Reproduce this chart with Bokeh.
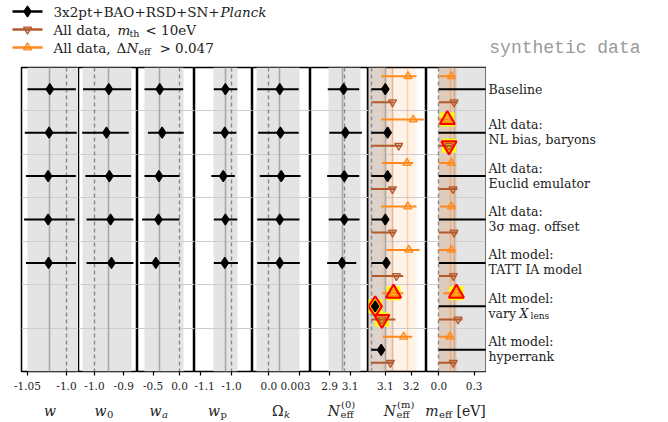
from bokeh.plotting import figure
from bokeh.layouts import row, column
from bokeh.models import Range1d, FixedTicker
from bokeh.core.properties import value
from bokeh.embed import file_html
from bokeh.resources import INLINE

# ---------------- data ----------------
row_line1 = ["Baseline", "Alt data:", "Alt data:", "Alt data:", "Alt model:", "Alt model:", "Alt model:"]
row_line2 = ["", "NL bias, baryons", "Euclid emulator", "3σ mag. offset", "TATT IA model", "vary", "hyperrank"]

w_c = [-1.0214, -1.0223, -1.0236, -1.0236, -1.0230]
w_lo = [-1.0500, -1.0535, -1.0520, -1.0544, -1.0520]
w_hi = [-0.9880, -0.9868, -0.9880, -0.9894, -0.9880]

w0_c = [-0.951, -0.959, -0.949, -0.945, -0.942]
w0_lo = [-1.039, -1.042, -1.031, -1.027, -1.027]
w0_hi = [-0.875, -0.883, -0.875, -0.867, -0.867]

wa_c = [-0.375, -0.330, -0.390, -0.400, -0.450]
wa_lo = [-0.665, -0.600, -0.665, -0.710, -0.750]
wa_hi = [0.070, 0.080, 0.000, 0.000, 0.000]

wp_c = [-1.020, -1.022, -1.027, -1.020, -1.022]
wp_lo = [-1.058, -1.060, -1.066, -1.058, -1.058]
wp_hi = [-0.981, -0.984, -0.989, -0.981, -0.979]

ok_c = [0.00106, 0.00113, 0.00120, 0.00106, 0.00106]
ok_lo = [-0.00112, -0.00103, -0.00087, -0.00112, -0.00112]
ok_hi = [0.00290, 0.00290, 0.00307, 0.00297, 0.00300]

n0_c = [3.036, 3.053, 3.043, 3.043, 3.021]
n0_lo = [2.881, 2.897, 2.875, 2.890, 2.875]
n0_hi = [3.189, 3.215, 3.189, 3.192, 3.160]

nm_black_c = [3.100, 3.109, 3.109, 3.100, 3.104, 3.061, 3.084]
nm_black_lo = [3.046, 3.046, 3.046, 3.046, 3.046, 3.046, 3.046]
nm_black_hi = [3.103, 3.112, 3.112, 3.103, 3.107, 3.064, 3.087]
nm_brown_c = [3.128, 3.152, 3.128, 3.128, 3.143, 3.087, 3.120]
nm_brown_lo = [3.046, 3.046, 3.046, 3.046, 3.046, 3.046, 3.046]
nm_brown_hi = [3.132, 3.165, 3.139, 3.139, 3.169, 3.139, 3.132]
nm_orange_c = [3.188, 3.208, 3.184, 3.187, 3.191, 3.132, 3.171]
nm_orange_lo = [3.084, 3.084, 3.087, 3.084, 3.104, 3.087, 3.091]
nm_orange_hi = [3.221, 3.249, 3.208, 3.221, 3.232, 3.170, 3.204]

me_black_lo = [0.0, 0.0, 0.0, 0.0, 0.0, 0.0, 0.0]
me_black_hi = [0.6, 0.6, 0.6, 0.6, 0.6, 0.6, 0.6]
me_brown_c = [0.129, 0.086, 0.120, 0.129, 0.123, 0.163, 0.123]
me_brown_lo = [0.0, 0.0, 0.0, 0.0, 0.0, 0.0, 0.0]
me_brown_hi = [0.160, 0.135, 0.158, 0.160, 0.143, 0.200, 0.143]
me_orange_c = [0.106, 0.072, 0.106, 0.106, 0.106, 0.149, 0.094]
me_orange_lo = [0.009, 0.0, 0.0, 0.009, 0.0, 0.038, 0.0]
me_orange_hi = [0.143, 0.120, 0.129, 0.143, 0.141, 0.200, 0.123]

# panel settings: x range, ticks, tick labels, 1-sigma band, mean line, fiducial line
w_ticks, w_tick_labels = [-1.05, -1.0], ["-1.05", "-1.0"]
w0_ticks, w0_tick_labels = [-1.0, -0.9], ["-1.0", "-0.9"]
wa_ticks, wa_tick_labels = [-0.5, 0.0], ["-0.5", "0.0"]
wp_ticks, wp_tick_labels = [-1.1, -1.0], ["-1.1", "-1.0"]
ok_ticks, ok_tick_labels = [0.0, 0.003], ["0.0", "0.003"]
n0_ticks, n0_tick_labels = [2.9, 3.1], ["2.9", "3.1"]
nm_ticks, nm_tick_labels = [3.1, 3.2], ["3.1", "3.2"]
me_ticks, me_tick_labels = [0.0, 0.3], ["0.0", "0.3"]

x_ranges = [(-1.0577, -0.9846), (-1.0546, -0.853), (-0.798, 0.285), (-1.1213, -0.931),
            (-0.00158, 0.00404), (2.712, 3.280), (3.035, 3.2595), (-0.105, 0.396)]
bands = [(-1.050, -0.985), (-1.042, -0.874), (-0.665, 0.070), (-1.058, -0.981),
         (-0.00119, 0.0030), (2.884, 3.199)]
means = [-1.0214, -0.951, -0.380, -1.020, 0.00106, 3.030]
fiducials = [-1.0, -1.0, 0.0, -1.0, 0.0, 3.046, 3.046, 0.0]

nm_gray_band = (3.00, 3.100)
nm_brown_band = (3.00, 3.131)
nm_orange_band = (3.085, 3.220)
nm_lines = [3.100, 3.128, 3.187]
me_gray_band = (0.0, 0.60)
me_brown_band = (0.0, 0.150)
me_orange_band = (0.0, 0.150)
me_lines = [0.100, 0.130]

highlights = [("nm", "orange", 5), ("nm", "black", 5), ("nm", "brown", 5),
              ("me", "orange", 1), ("me", "brown", 1), ("me", "orange", 5)]

legend_labels = ["3x2pt+BAO+RSD+SN+", "All data, ", "All data, "]

# ---------------- style / layout ----------------
SERIF = "DejaVu Serif"
TXT = "#222222"
BLACK, BROWN, ORANGE = "#000000", "#b35a2d", "#ff8a1c"
GRAY_BAND, MEAN_C, FID_C, GRID_C = "#e4e4e4", "#a8a8a8", "#888888", "#cdcdcd"
PANEL_W = [57, 59, 57, 58, 58, 58, 58, 59]
LEFT_PAD = 21
TOP_H = 66
FRAME_H = 304
PANEL_BOTTOM = 24
PANEL_H = FRAME_H + 1 + PANEL_BOTTOM
TOTAL_H = 421
BOT_H = TOTAL_H - TOP_H - PANEL_H
TOTAL_W = 666
LABEL_W = TOTAL_W - (LEFT_PAD + sum(PANEL_W) + 1)
NROWS = len(row_line1)

STY = {
    "black": dict(color=BLACK, marker="diamond", size=11, off=0.0, alpha=1.0, big=20),
    "brown": dict(color=BROWN, marker="inverted_triangle", size=8, off=0.3, alpha=0.3, big=15),
    "orange": dict(color=ORANGE, marker="triangle", size=8, off=-0.3, alpha=0.3, big=15),
}

yr = Range1d(NROWS - 0.5, -0.5)


def make_panel(i, ticks, tick_labels):
    lb = LEFT_PAD if i == 0 else 0
    rb = 1 if i == len(PANEL_W) - 1 else 0
    p = figure(width=PANEL_W[i] + lb + rb, height=PANEL_H,
               x_range=Range1d(*x_ranges[i]), y_range=yr,
               output_backend="svg", toolbar_location=None, y_axis_location=None,
               min_border_left=lb, min_border_right=rb, min_border_top=1,
               min_border_bottom=PANEL_BOTTOM)
    p.grid.visible = False
    p.outline_line_color = "black"
    p.outline_line_width = 1.5
    p.outline_line_alpha = 1.0
    p.background_fill_color = "white"
    p.border_fill_color = "white"
    ax = p.xaxis[0]
    ax.ticker = FixedTicker(ticks=ticks)
    ax.major_label_overrides = dict(zip(ticks, tick_labels))
    ax.axis_line_color = None
    ax.major_tick_out = 4
    ax.major_tick_in = 0
    ax.minor_tick_out = 0
    ax.minor_tick_in = 0
    ax.major_tick_line_color = "black"
    ax.major_tick_line_width = 1.2
    ax.major_label_text_font = SERIF
    ax.major_label_text_font_size = "10.5px"
    ax.major_label_text_color = TXT
    ax.major_label_standoff = 6
    return p


def grid_lines(p):
    p.hspan(y=[k + 0.5 for k in range(NROWS - 1)], line_color=GRID_C, line_width=1)


def draw_series(p, key, name, c, lo, hi):
    st = STY[name]
    ys = [k + st["off"] for k in range(len(lo))]
    hl = [k for (kk, nn, k) in highlights if kk == key and nn == name]
    if hl and c is not None:
        p.scatter([c[k] for k in hl], [ys[k] for k in hl], marker="square", size=14,
                  fill_color="#ffff00", line_color=None)
    p.segment(x0=lo, x1=hi, y0=ys, y1=ys, line_color=st["color"], line_width=2)
    if c is not None:
        p.scatter(c, ys, marker=st["marker"], size=st["size"], fill_color=st["color"],
                  fill_alpha=st["alpha"], line_color=st["color"], line_width=1.3)
        if hl:
            p.scatter([c[k] for k in hl], [ys[k] for k in hl], marker=st["marker"],
                      size=st["big"], fill_color=None, line_color="#ff0000", line_width=2.2)


simple = [(w_c, w_lo, w_hi, w_ticks, w_tick_labels),
          (w0_c, w0_lo, w0_hi, w0_ticks, w0_tick_labels),
          (wa_c, wa_lo, wa_hi, wa_ticks, wa_tick_labels),
          (wp_c, wp_lo, wp_hi, wp_ticks, wp_tick_labels),
          (ok_c, ok_lo, ok_hi, ok_ticks, ok_tick_labels),
          (n0_c, n0_lo, n0_hi, n0_ticks, n0_tick_labels)]

panels = []
for i, (c, lo, hi, tk, tl) in enumerate(simple):
    p = make_panel(i, tk, tl)
    p.vstrip(x0=[bands[i][0]], x1=[bands[i][1]], fill_color=GRAY_BAND, line_alpha=0)
    grid_lines(p)
    p.vspan(x=[means[i]], line_color=MEAN_C, line_width=1.6)
    p.vspan(x=[fiducials[i]], line_color=FID_C, line_width=1.4, line_dash="4 3")
    draw_series(p, "s%d" % i, "black", c, lo, hi)
    panels.append(p)

# N_eff^(m) panel
p = make_panel(6, nm_ticks, nm_tick_labels)
p.vstrip(x0=[nm_gray_band[0]], x1=[nm_gray_band[1]], fill_color=GRAY_BAND, line_alpha=0)
p.vstrip(x0=[nm_brown_band[0]], x1=[nm_brown_band[1]], fill_color=BROWN, fill_alpha=0.13, line_alpha=0)
p.vstrip(x0=[nm_orange_band[0]], x1=[nm_orange_band[1]], fill_color=ORANGE, fill_alpha=0.1, line_alpha=0)
grid_lines(p)
p.vspan(x=[nm_lines[0]], line_color=MEAN_C, line_width=1.6)
p.vspan(x=[nm_lines[1]], line_color=BROWN, line_width=1.4, line_alpha=0.3)
p.vspan(x=[nm_lines[2]], line_color=ORANGE, line_width=1.4, line_alpha=0.35)
p.vspan(x=[fiducials[6]], line_color=FID_C, line_width=1.4, line_dash="4 3")
draw_series(p, "nm", "orange", nm_orange_c, nm_orange_lo, nm_orange_hi)
draw_series(p, "nm", "brown", nm_brown_c, nm_brown_lo, nm_brown_hi)
draw_series(p, "nm", "black", nm_black_c, nm_black_lo, nm_black_hi)
panels.append(p)

# m_eff panel
p = make_panel(7, me_ticks, me_tick_labels)
p.vstrip(x0=[me_gray_band[0]], x1=[me_gray_band[1]], fill_color=GRAY_BAND, line_alpha=0)
p.vstrip(x0=[me_brown_band[0]], x1=[me_brown_band[1]], fill_color=BROWN, fill_alpha=0.13, line_alpha=0)
p.vstrip(x0=[me_orange_band[0]], x1=[me_orange_band[1]], fill_color=ORANGE, fill_alpha=0.1, line_alpha=0)
grid_lines(p)
p.vspan(x=[me_lines[0]], line_color=ORANGE, line_width=1.4, line_alpha=0.4)
p.vspan(x=[me_lines[1]], line_color=BROWN, line_width=1.4, line_alpha=0.3)
p.vspan(x=[fiducials[7]], line_color=FID_C, line_width=1.4, line_dash="4 3")
draw_series(p, "me", "black", None, me_black_lo, me_black_hi)
draw_series(p, "me", "orange", me_orange_c, me_orange_lo, me_orange_hi)
draw_series(p, "me", "brown", me_brown_c, me_brown_lo, me_brown_hi)
panels.append(p)

# ---------------- right-hand row labels ----------------
lab = figure(width=LABEL_W, height=PANEL_H, x_range=Range1d(0, LABEL_W), y_range=yr,
             output_backend="svg", toolbar_location=None, x_axis_location=None,
             y_axis_location=None, min_border_left=0, min_border_right=0, min_border_top=1,
             min_border_bottom=PANEL_BOTTOM)
lab.grid.visible = False
lab.outline_line_color = None
fs = value("12.5px")
single = [k for k in range(NROWS) if row_line2[k] == ""]
double = [k for k in range(NROWS) if row_line2[k] != ""]
lab.text(x=[2] * len(single), y=single, text=[row_line1[k] for k in single],
         text_font=value(SERIF), text_font_size=fs, text_baseline="middle", text_color=TXT)
lab.text(x=[2] * len(double), y=double, text=[row_line1[k] for k in double], y_offset=-8,
         text_font=value(SERIF), text_font_size=fs, text_baseline="middle", text_color=TXT)
lab.text(x=[2] * len(double), y=double, text=[row_line2[k] for k in double], y_offset=7,
         text_font=value(SERIF), text_font_size=fs, text_baseline="middle", text_color=TXT)
lab.text(x=[33], y=[5], text=["X"], y_offset=7, text_font=value(SERIF), text_font_size=fs,
         text_font_style="italic", text_baseline="middle", text_color=TXT)
lab.text(x=[44], y=[5], text=["lens"], y_offset=10, text_font=value(SERIF),
         text_font_size=value("9px"), text_baseline="middle", text_color=TXT)

# ---------------- top strip: legend + watermark ----------------
top = figure(width=TOTAL_W, height=TOP_H, x_range=Range1d(0, TOTAL_W), y_range=Range1d(TOP_H, 0),
             output_backend="svg", toolbar_location=None, x_axis_location=None,
             y_axis_location=None, min_border=0)
top.grid.visible = False
top.outline_line_color = None
leg_y = [11, 29, 47]
for k, name in enumerate(["black", "brown", "orange"]):
    st = STY[name]
    top.segment(x0=[12], x1=[42], y0=[leg_y[k]], y1=[leg_y[k]], line_color=st["color"], line_width=2.5)
    top.scatter([27], [leg_y[k]], marker=st["marker"], size=st["size"], fill_color=st["color"],
                fill_alpha=st["alpha"], line_color=st["color"], line_width=1.3)
lf = value("13.5px")
top.text(x=[53, 53, 53], y=leg_y, text=legend_labels, text_font=value(SERIF), text_font_size=lf,
         text_baseline="middle", text_color=TXT)
top.text(x=[220], y=[leg_y[0]], text=["Planck"], text_font=value(SERIF), text_font_size=lf,
         text_font_style="italic", text_baseline="middle", text_color=TXT)
top.text(x=[117], y=[leg_y[1]], text=["m"], text_font=value(SERIF), text_font_size=lf,
         text_font_style="italic", text_baseline="middle", text_color=TXT)
top.text(x=[129], y=[leg_y[1] + 4], text=["th"], text_font=value(SERIF), text_font_size=value("9.5px"),
         text_baseline="middle", text_color=TXT)
top.text(x=[145], y=[leg_y[1]], text=["< 10eV"], text_font=value(SERIF), text_font_size=lf,
         text_baseline="middle", text_color=TXT)
top.text(x=[116], y=[leg_y[2]], text=["Δ"], text_font=value(SERIF), text_font_size=lf,
         text_baseline="middle", text_color=TXT)
top.text(x=[126], y=[leg_y[2]], text=["N"], text_font=value(SERIF), text_font_size=lf,
         text_font_style="italic", text_baseline="middle", text_color=TXT)
top.text(x=[138], y=[leg_y[2] + 4], text=["eff"], text_font=value(SERIF), text_font_size=value("9.5px"),
         text_baseline="middle", text_color=TXT)
top.text(x=[159], y=[leg_y[2]], text=["> 0.047"], text_font=value(SERIF), text_font_size=lf,
         text_baseline="middle", text_color=TXT)
top.text(x=[640], y=[47], text=["synthetic data"], text_font=value("Liberation Mono"),
         text_font_size=value("18px"), text_align="right", text_baseline="middle", text_color="#9a9a9a")

# ---------------- bottom strip: axis labels ----------------
bot = figure(width=TOTAL_W, height=BOT_H, x_range=Range1d(0, TOTAL_W), y_range=Range1d(BOT_H, 0),
             output_backend="svg", toolbar_location=None, x_axis_location=None,
             y_axis_location=None, min_border=0)
bot.grid.visible = False
bot.outline_line_color = None
centers = [LEFT_PAD + sum(PANEL_W[:i]) + PANEL_W[i] / 2 for i in range(len(PANEL_W))]
xl_main = ["w", "w", "w", "w", "Ω", "N", "N", "m"]
xl_main_it = [True, True, True, True, False, True, True, True]
xl_sub = ["", "0", "a", "p", "k", "eff", "eff", "eff"]
xl_sub_it = [False, False, True, False, True, False, False, False]
xl_sup = ["", "", "", "", "", "(0)", "(m)", ""]
xl_shift = [0, -1.5, -4.5, -3.5, 2, 0.5, -1.5, -17.5]
BASE = 15
for i in range(len(PANEL_W)):
    a = centers[i] + xl_shift[i]
    align = "center" if xl_sub[i] == "" else "right"
    bot.text(x=[a], y=[BASE], text=[xl_main[i]], text_font=value(SERIF), text_font_size=value("14px"),
             text_font_style="italic" if xl_main_it[i] else "normal", text_align=align,
             text_baseline="alphabetic", text_color=TXT)
    if xl_sub[i]:
        bot.text(x=[a + 0.5], y=[BASE + 3.5], text=[xl_sub[i]], text_font=value(SERIF),
                 text_font_size=value("10px"), text_font_style="italic" if xl_sub_it[i] else "normal",
                 text_align="left", text_baseline="alphabetic", text_color=TXT)
    if xl_sup[i]:
        bot.text(x=[a + 1], y=[BASE - 6.5], text=[xl_sup[i]], text_font=value(SERIF),
                 text_font_size=value("10px"), text_align="left", text_baseline="alphabetic",
                 text_color=TXT)
bot.text(x=[centers[7] + 0.5], y=[BASE], text=["[eV]"], text_font=value(SERIF),
         text_font_size=value("14px"), text_align="left", text_baseline="alphabetic", text_color=TXT)

layout = column(top, row(*panels, lab), bot)
open("out.html", "w").write(file_html(layout, INLINE))
